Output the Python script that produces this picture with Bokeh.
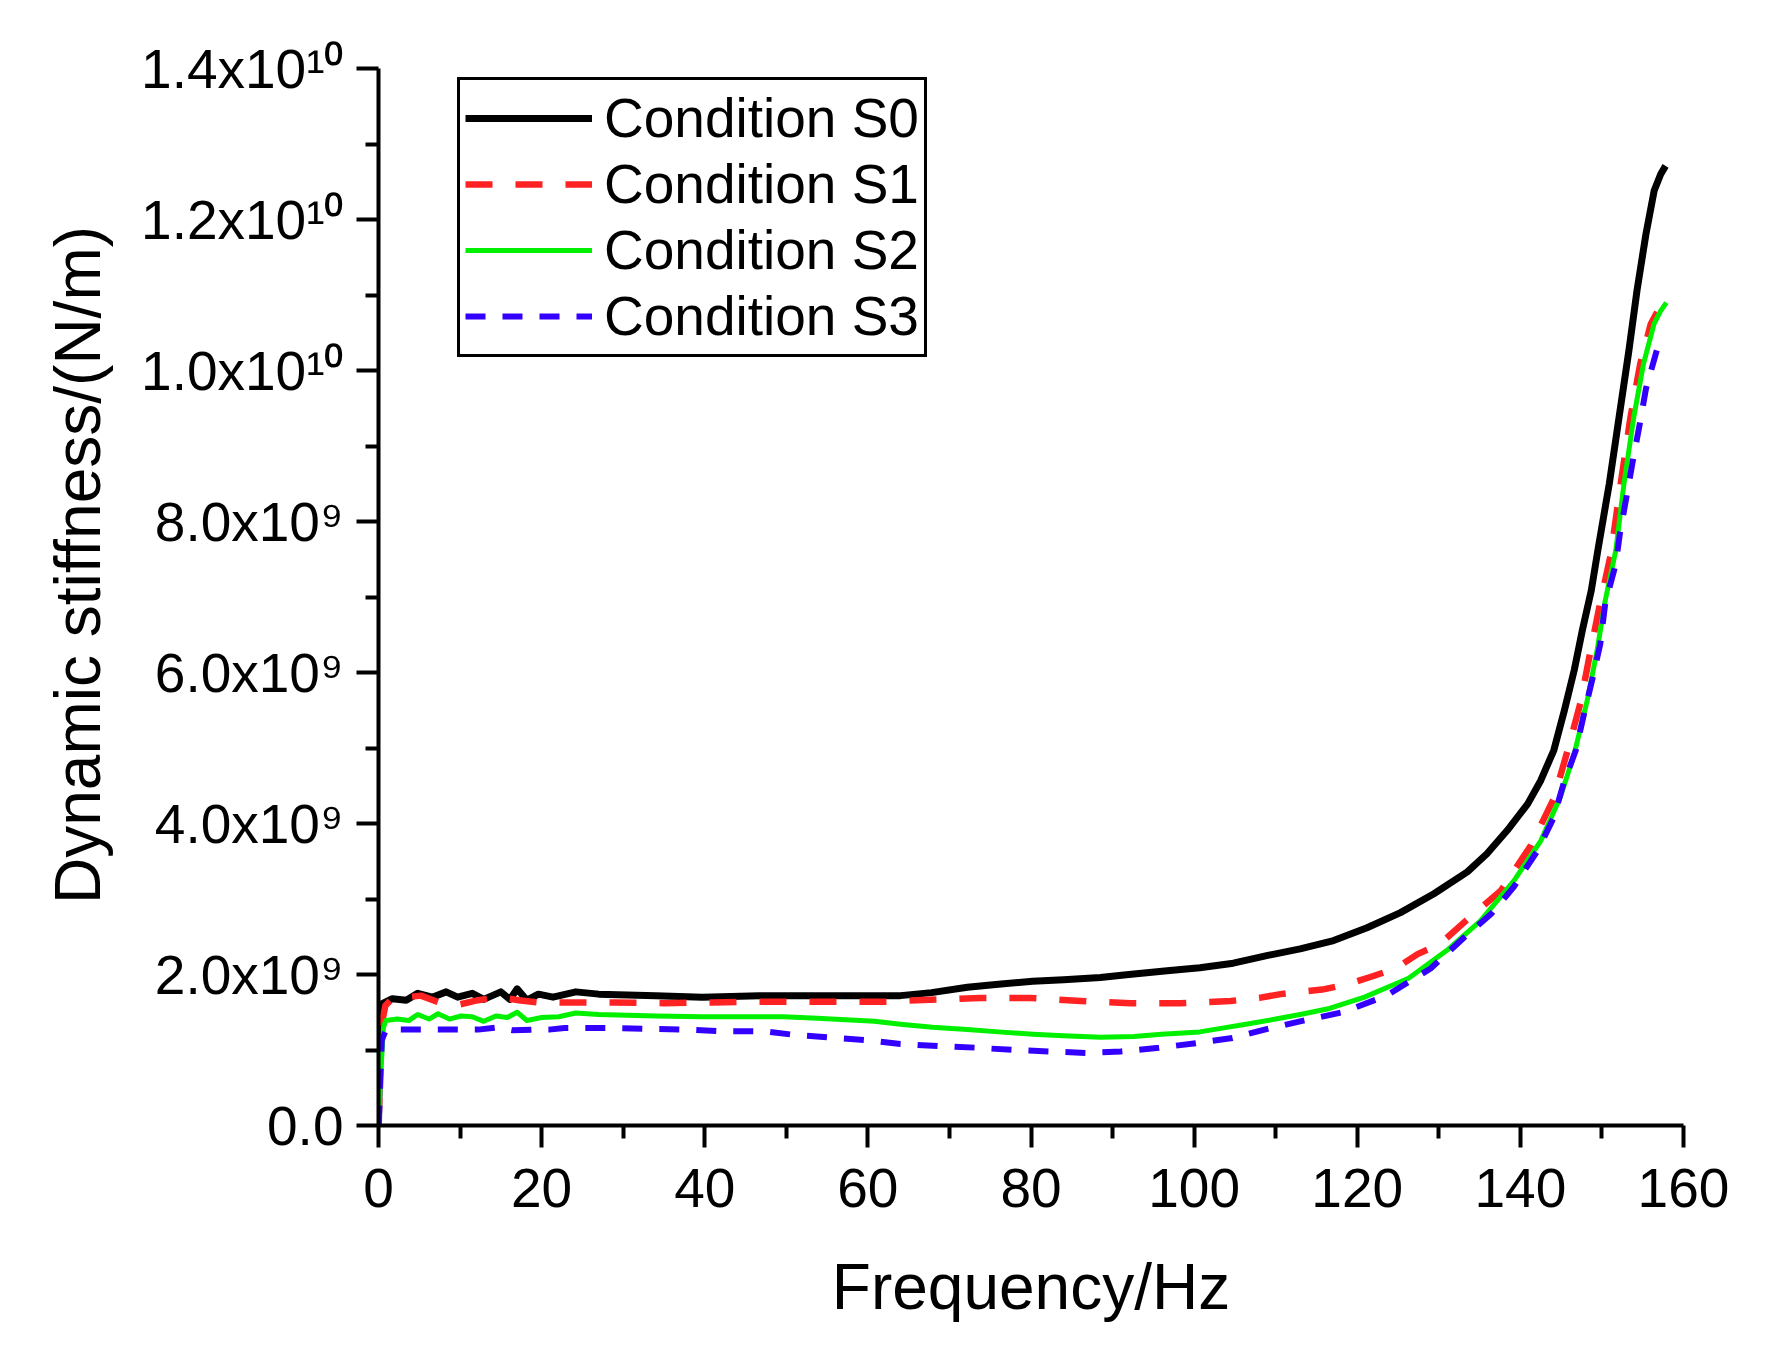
from bokeh.plotting import figure
from bokeh.models import Range1d, FixedTicker, CustomJSTickFormatter
from bokeh.embed import file_html
from bokeh.resources import INLINE

FONT = "Liberation Sans"

# ---- data (frequency in Hz, stiffness in units of 1e9 N/m) ----
s0_freq = [0, 0.2, 0.4, 1.7, 3.4, 4.8, 6.6, 8.3, 9.7, 11.5, 12.9, 15.0, 16.1, 17.0, 18.2, 19.6, 21.4, 24.2, 27.0, 34.0,
           39.7, 46.7, 56.0, 64.0, 67.8, 72.2, 76.0, 80.2, 84.0, 88.5, 92.0, 96.7, 100.7, 104.8, 108.9, 113.0, 117.1,
           121.2, 125.3, 129.4, 133.5, 135.9, 138.4, 140.9, 142.5, 144.1, 145.4, 146.6, 147.6, 148.7, 149.5, 150.9,
           152.1, 153.3, 154.3, 155.4, 156.4, 157.2, 157.8]
s0_val = [0.0, 1.45, 1.61, 1.68, 1.66, 1.75, 1.70, 1.77, 1.70, 1.75, 1.67, 1.77, 1.67, 1.81, 1.66, 1.74, 1.70, 1.77, 1.74,
          1.72, 1.70, 1.72, 1.72, 1.72, 1.76, 1.83, 1.87, 1.91, 1.93, 1.96, 2.00, 2.05, 2.09, 2.15, 2.25, 2.34, 2.45,
          2.62, 2.82, 3.07, 3.36, 3.60, 3.91, 4.26, 4.57, 4.97, 5.50, 6.03, 6.56, 7.09, 7.62, 8.50, 9.38, 10.26, 11.06,
          11.81, 12.38, 12.60, 12.71]

s1_freq = [0, 0.3, 0.85, 1.7, 3.5, 5.2, 7.4, 9.8, 12.2, 14.7, 17.2, 19.6, 23.0, 29.0, 35.0, 41.0, 47.5, 54.0, 60.0, 63.0,
           66.0, 69.0, 73.8, 79.9, 86.1, 92.2, 98.3, 104.5, 108.0, 110.6, 113.0, 115.7, 118.8, 121.7, 124.7, 127.4,
           130.1, 133.1, 137.6, 141.3, 144.1, 145.8, 147.4, 148.6, 149.8, 151.1, 152.3, 153.5, 154.7, 156.0, 157.0,
           157.9]
s1_val = [0.0, 1.30, 1.59, 1.68, 1.70, 1.72, 1.63, 1.60, 1.66, 1.70, 1.66, 1.63, 1.63, 1.63, 1.62, 1.63, 1.64, 1.64, 1.64,
          1.64, 1.66, 1.67, 1.69, 1.69, 1.65, 1.62, 1.62, 1.65, 1.69, 1.74, 1.77, 1.80, 1.87, 1.97, 2.08, 2.27, 2.40,
          2.69, 3.11, 3.71, 4.33, 4.97, 5.61, 6.29, 6.93, 7.57, 8.50, 9.38, 10.09, 10.62, 10.82, 10.90]

s2_freq = [0, 0.14, 0.6, 0.9, 2.3, 3.7, 4.8, 6.2, 7.3, 8.7, 10.1, 11.5, 12.9, 14.4, 15.8, 17.0, 18.2, 20.0, 22.1, 24.2,
           27.0, 34.1, 39.7, 49.6, 53.8, 60.8, 64.0, 67.9, 72.2, 76.0, 80.2, 84.0, 88.5, 92.6, 96.0, 100.7, 104.0,
           106.9, 110.0, 113.0, 116.6, 120.9, 126.3, 131.0, 135.1, 139.2, 142.5, 144.9, 146.6, 148.2, 149.4, 150.4,
           151.7, 152.7, 153.9, 155.1, 156.4, 157.2, 157.9]
s2_val = [0.0, 0.42, 1.30, 1.39, 1.41, 1.39, 1.47, 1.41, 1.48, 1.41, 1.45, 1.44, 1.38, 1.45, 1.43, 1.50, 1.39, 1.43, 1.44,
          1.49, 1.47, 1.45, 1.44, 1.44, 1.42, 1.38, 1.34, 1.30, 1.27, 1.24, 1.21, 1.19, 1.17, 1.18, 1.21, 1.24, 1.30,
          1.35, 1.41, 1.47, 1.55, 1.70, 1.95, 2.32, 2.71, 3.24, 3.77, 4.35, 4.92, 5.63, 6.29, 6.95, 7.62, 8.50, 9.38,
          10.09, 10.62, 10.79, 10.90]

s3_freq = [0, 0.15, 0.4, 0.9, 2.6, 6.6, 8.7, 12.2, 14.6, 16.5, 18.8, 20.9, 22.8, 25.0, 29.5, 33.0, 38.0, 42.0, 47.0, 51.0,
           55.0, 60.0, 64.0, 69.0, 73.4, 77.9, 82.4, 86.9, 91.0, 95.7, 100.2, 104.7, 109.0, 113.0, 118.2, 123.6, 129.0,
           133.1, 136.4, 139.2, 142.1, 144.1, 145.3, 146.8, 147.8, 148.8, 149.8, 150.4, 151.7, 152.2, 153.0, 153.8,
           154.6, 155.4, 156.6, 156.9]
s3_val = [0.0, 0.35, 1.13, 1.26, 1.27, 1.27, 1.27, 1.27, 1.30, 1.26, 1.27, 1.27, 1.29, 1.29, 1.29, 1.28, 1.27, 1.25, 1.25,
          1.20, 1.17, 1.13, 1.08, 1.05, 1.03, 1.00, 0.98, 0.96, 0.98, 1.03, 1.09, 1.16, 1.28, 1.38, 1.50, 1.72, 2.08,
          2.49, 2.80, 3.16, 3.64, 4.08, 4.53, 4.97, 5.45, 5.90, 6.38, 6.91, 7.44, 7.84, 8.32, 8.81, 9.27, 9.76, 10.22,
          10.33]

series_names = ["Condition S0", "Condition S1", "Condition S2", "Condition S3"]

x_major = [0, 20, 40, 60, 80, 100, 120, 140, 160]
x_minor = [10, 30, 50, 70, 90, 110, 130, 150]
y_major = [0, 2e9, 4e9, 6e9, 8e9, 1.0e10, 1.2e10, 1.4e10]
y_minor = [1e9, 3e9, 5e9, 7e9, 9e9, 1.1e10, 1.3e10]
y_tick_labels = ["0.0", "2.0x10\u2079", "4.0x10\u2079", "6.0x10\u2079", "8.0x10\u2079",
                 "1.0x10\u00b9\u2070", "1.2x10\u00b9\u2070", "1.4x10\u00b9\u2070"]

SCALE = 1e9

# ---- figure ----
p = figure(width=1771, height=1359, output_backend="svg", toolbar_location=None, title=None,
           x_range=Range1d(0, 160), y_range=Range1d(0, 1.4e10),
           min_border_left=378, min_border_right=88, min_border_top=68, min_border_bottom=234)
p.outline_line_color = None
p.xgrid.visible = False
p.ygrid.visible = False
p.background_fill_color = "white"

styles = [
    dict(color="#000000", width=7, dash="solid"),
    dict(color="#ff2222", width=6.5, dash="27 23"),
    dict(color="#00f000", width=5, dash="solid"),
    dict(color="#3300ff", width=6, dash="20 17"),
]
data = [(s0_freq, s0_val), (s1_freq, s1_val), (s2_freq, s2_val), (s3_freq, s3_val)]
for (f, v), name, st in zip(data, series_names, styles):
    p.line(list(f), [vi * SCALE for vi in v], line_color=st["color"], line_width=st["width"],
           line_dash=st["dash"], line_join="round", legend_label=name)

# axes
for ax in (p.xaxis[0], p.yaxis[0]):
    ax.axis_line_width = 4
    ax.axis_line_color = "black"
    ax.major_tick_line_width = 4
    ax.minor_tick_line_width = 4
    ax.major_tick_out = 22
    ax.major_tick_in = 0
    ax.minor_tick_out = 13
    ax.minor_tick_in = 0
    ax.major_tick_line_color = "black"
    ax.minor_tick_line_color = "black"
    ax.major_label_text_font = FONT
    ax.major_label_text_font_size = "55px"
    ax.major_label_text_color = "black"
    ax.axis_label_text_font = FONT
    ax.axis_label_text_font_size = "64px"
    ax.axis_label_text_font_style = "normal"
    ax.axis_label_text_color = "black"

p.xaxis.ticker = FixedTicker(ticks=x_major, minor_ticks=x_minor)
p.xaxis.major_label_standoff = 21
p.xaxis.axis_label = "Frequency/Hz"
p.xaxis.axis_label_standoff = 41

p.yaxis.ticker = FixedTicker(ticks=y_major, minor_ticks=y_minor)
p.yaxis.formatter = CustomJSTickFormatter(args=dict(tvals=y_major, tlabels=y_tick_labels), code="""
    for (let i = 0; i < tvals.length; i++) {
        if (Math.abs(tick - tvals[i]) < 1) { return tlabels[i]; }
    }
    return '';
""")
p.yaxis.major_label_standoff = 13
# the leading em space nudges the centred title up a little, as in the original
p.yaxis.axis_label = "\u2003Dynamic stiffness/(N/m)"
p.yaxis.axis_label_standoff = 24

# legend
lg = p.legend[0]
lg.location = (79, 768)
lg.margin = 0
lg.padding = 5
lg.spacing = 0
lg.glyph_width = 127
lg.glyph_height = 66
lg.label_height = 66
lg.label_standoff = 12
lg.label_text_font = FONT
lg.label_text_font_size = "55px"
lg.label_text_color = "black"
lg.border_line_color = "black"
lg.border_line_alpha = 1.0
lg.border_line_width = 3
lg.background_fill_color = "white"
lg.background_fill_alpha = 1.0

open("out.html", "w").write(file_html(p, INLINE))
